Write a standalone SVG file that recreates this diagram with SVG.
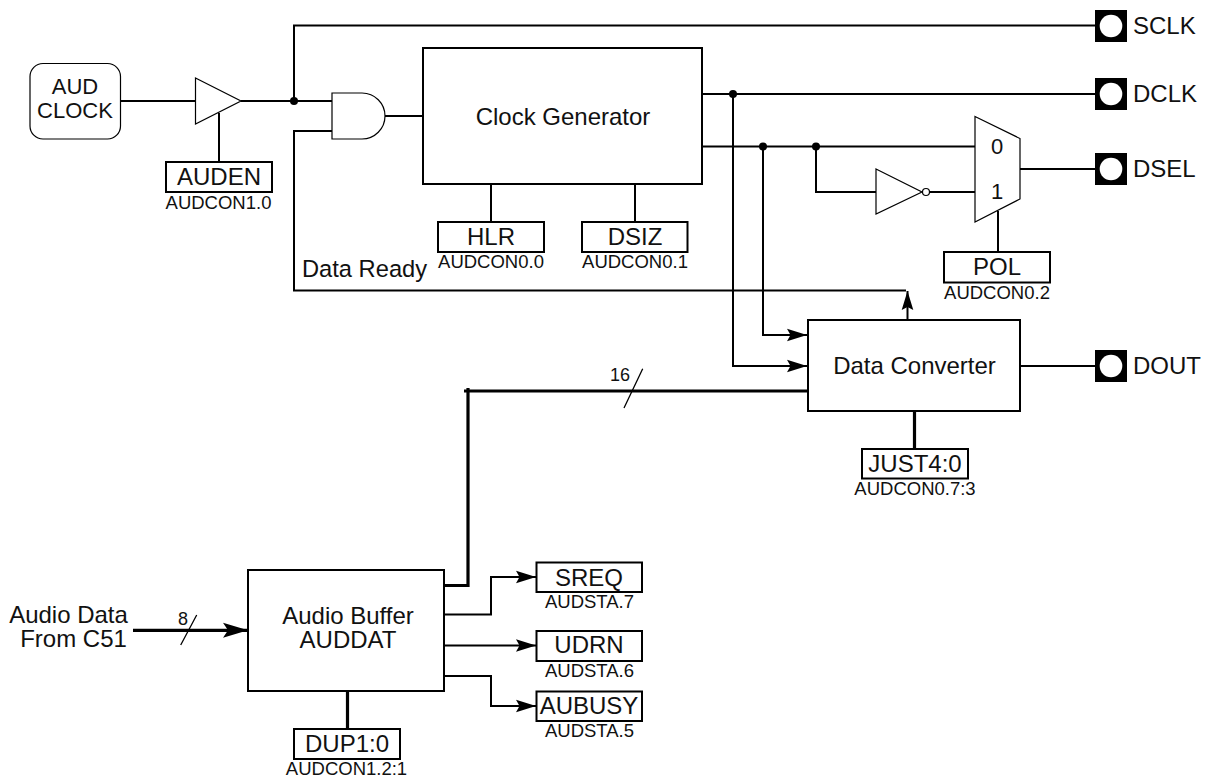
<svg xmlns="http://www.w3.org/2000/svg" width="1209" height="779" viewBox="0 0 1209 779">
<style>
text{font-family:"Liberation Sans",Arial,sans-serif;fill:#111;text-anchor:middle}
.l{font-size:24px}.c{font-size:22px}.s{font-size:18.500px}.m{font-size:24px}.u{font-size:18px}
.st{text-anchor:start}
.b{fill:#fff;stroke:#000;stroke-width:2}
.g{fill:#fff;stroke:#000;stroke-width:1.2}
.w{fill:none;stroke:#000;stroke-width:2}
.t{fill:none;stroke:#000;stroke-width:3.200}
.n{fill:none;stroke:#000;stroke-width:1.300}
.p{fill:#000}
.h{fill:#fff}
</style>
<defs>
<marker id="a" markerUnits="userSpaceOnUse" markerWidth="20" markerHeight="14" refX="20" refY="7" orient="auto"><path d="M0 .8 L20 7 L0 13.200 L3.500 7Z" fill="#000"/></marker>
<marker id="u" markerUnits="userSpaceOnUse" markerWidth="20" markerHeight="14" refX="19" refY="7" orient="auto"><path d="M0 1.200 L19 7 L0 12.800 L3 7Z" fill="#000"/></marker>
<marker id="f" markerUnits="userSpaceOnUse" markerWidth="26" markerHeight="16" refX="25" refY="8" orient="auto"><path d="M0 .5 L25 8 L0 15.500 L5 8Z" fill="#000"/></marker>
</defs>
<g id="connectors">
<path class="w" d="M120 101H195M241 101H332M294 101V25.500H1098M219 113V162M332 131H294V290.500H906M385 116H423"/>
<path class="w" marker-end="url(#u)" d="M907.500 320V291"/>
<path class="w" d="M702 94H1098M702 146.500H975M816 146.500V192H876M930 192H975M1020 169H1098M998 211V252M491 184V222M635 184V222M1020 366H1098"/>
<path class="w" marker-end="url(#a)" d="M733 94V366H807"/>
<path class="w" marker-end="url(#a)" d="M763 146.500V335H807"/>
<path class="t" d="M464 391H808M468 388V585.500H444M914.500 411V449M347.500 691V729"/>
<path class="n" d="M624 408L642.700 368.700M180.700 645L196.700 615"/>
<path class="t" marker-end="url(#f)" d="M133 630.300H248"/>
<path class="w" marker-end="url(#a)" d="M444 614.500H491V577H536"/>
<path class="w" marker-end="url(#a)" d="M444 645.500H536"/>
<path class="w" marker-end="url(#a)" d="M444 676H491V706H536"/>
<circle class="p" cx="294" cy="101" r="4"/><circle class="p" cx="733" cy="94" r="4"/><circle class="p" cx="763" cy="146.500" r="4"/><circle class="p" cx="816" cy="146.500" r="4"/>
</g>
<g id="aud-clock"><rect class="g" x="30" y="63.500" width="90.500" height="75.500" rx="13"/><text class="c" x="75" y="94">AUD</text><text class="c" x="75" y="118">CLOCK</text></g>
<g id="buffer"><path class="g" d="M195.500 78L241 101L195.500 124Z"/></g>
<g id="and-gate"><path class="g" d="M332 93H362A23 23 0 0 1 362 139H332Z"/></g>
<g id="auden"><rect class="b" x="166" y="162" width="106" height="30"/><text class="m" x="219" y="184.500">AUDEN</text><text class="s" x="218.500" y="209">AUDCON1.0</text></g>
<g id="clock-generator"><rect class="b" x="423" y="48" width="279" height="136"/><text class="l" x="563" y="125">Clock Generator</text></g>
<g id="hlr"><rect class="b" x="438" y="222" width="106" height="30"/><text class="m" x="491" y="245">HLR</text><text class="s" x="491" y="268">AUDCON0.0</text></g>
<g id="dsiz"><rect class="b" x="582" y="222" width="105.500" height="30"/><text class="m" x="635" y="245">DSIZ</text><text class="s" x="635" y="268">AUDCON0.1</text></g>
<g id="inverter"><path class="g" d="M876 169L922 192L876 214Z"/><circle class="g" cx="926" cy="192" r="3.500"/></g>
<g id="mux"><path class="g" d="M975 116.500L1020 138.500V199L975 222Z"/><text class="c" x="997" y="154">0</text><text class="c" x="997" y="199">1</text></g>
<g id="pol"><rect class="b" x="944" y="252" width="106" height="30.500"/><text class="m" x="997" y="275">POL</text><text class="s" x="997" y="298.500">AUDCON0.2</text></g>
<g id="sclk"><rect class="p" x="1095" y="10" width="32" height="32"/><circle class="h" cx="1111" cy="26" r="11.300"/><text class="l st" x="1133" y="33.500">SCLK</text></g>
<g id="dclk"><rect class="p" x="1095" y="78" width="32" height="32"/><circle class="h" cx="1111" cy="94" r="11.300"/><text class="l st" x="1133" y="101.700">DCLK</text></g>
<g id="dsel"><rect class="p" x="1095" y="153" width="32" height="32"/><circle class="h" cx="1111" cy="169" r="11.300"/><text class="l st" x="1133" y="176.700">DSEL</text></g>
<g id="dout"><rect class="p" x="1095" y="350" width="32" height="32"/><circle class="h" cx="1111" cy="366" r="11.300"/><text class="l st" x="1133" y="374">DOUT</text></g>
<g id="data-ready-label"><text class="st" x="302" y="277" font-size="23.700">Data Ready</text></g>
<g id="data-converter"><rect class="b" x="808" y="320" width="212" height="91"/><text class="l" x="914.500" y="373.500">Data Converter</text></g>
<g id="just"><rect class="b" x="862" y="449" width="106" height="29.500"/><text class="m" x="915" y="471.700">JUST4:0</text><text class="s" x="915" y="495">AUDCON0.7:3</text></g>
<g id="bus-16"><text class="u" x="620" y="381">16</text></g>
<g id="audio-in"><text class="l" x="68.500" y="623">Audio Data</text><text class="l" x="73.500" y="647">From C51</text><text class="u" x="183" y="625">8</text></g>
<g id="audio-buffer"><rect class="b" x="248" y="570" width="196" height="121"/><text class="l" x="348" y="624">Audio Buffer</text><text class="l" x="348" y="648">AUDDAT</text></g>
<g id="sreq"><rect class="b" x="536.500" y="562.500" width="105.500" height="29.500"/><text class="m" x="589" y="586">SREQ</text><text class="s" x="589.500" y="607.700">AUDSTA.7</text></g>
<g id="udrn"><rect class="b" x="536.500" y="631" width="105.500" height="30"/><text class="m" x="589" y="653">UDRN</text><text class="s" x="589.500" y="677">AUDSTA.6</text></g>
<g id="aubusy"><rect class="b" x="536.500" y="691.500" width="105.500" height="29.500"/><text class="m" x="589" y="713.700">AUBUSY</text><text class="s" x="589.500" y="737">AUDSTA.5</text></g>
<g id="dup"><rect class="b" x="294" y="729" width="106" height="30"/><text class="m" x="347" y="751.700">DUP1:0</text><text class="s" x="346.500" y="775">AUDCON1.2:1</text></g>
</svg>
